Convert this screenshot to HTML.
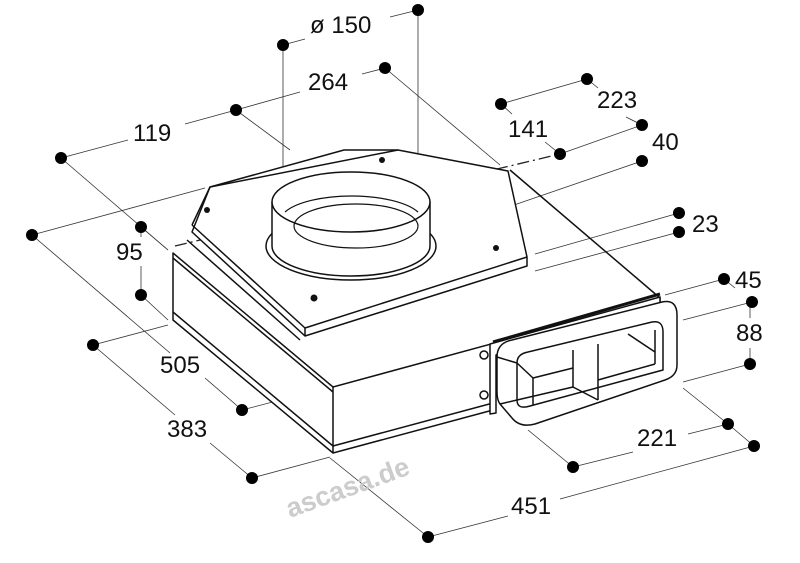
<!DOCTYPE html>
<html><head><meta charset="utf-8"><style>
html,body{margin:0;padding:0;background:#fff}
svg{display:block}
text{font-family:"Liberation Sans",sans-serif;font-size:24px;fill:#111}
</style></head><body>
<svg width="800" height="563" viewBox="0 0 800 563" xmlns="http://www.w3.org/2000/svg">
<g stroke="#333" stroke-width="0.8" fill="none">
<line x1="61" y1="158" x2="128" y2="140"/><line x1="185" y1="124" x2="236" y2="110"/>
<line x1="61" y1="158" x2="168" y2="250"/>
<line x1="236" y1="110" x2="300" y2="92"/><line x1="362" y1="74" x2="385" y2="68"/>
<line x1="236" y1="110" x2="290" y2="150"/>
<line x1="385" y1="68" x2="500" y2="165"/>
<line x1="283" y1="45" x2="305" y2="39"/><line x1="390" y1="17" x2="418" y2="10"/>
<line x1="283" y1="45" x2="283" y2="228"/><line x1="418" y1="10" x2="418" y2="185"/>
<line x1="501" y1="104" x2="587" y2="79"/>
<line x1="587" y1="79" x2="598" y2="88"/><line x1="626" y1="117" x2="642" y2="125"/>
<line x1="501" y1="104" x2="512" y2="114"/><line x1="545" y1="142" x2="560" y2="154"/>
<line x1="560" y1="154" x2="642" y2="125"/>
<line x1="642" y1="161" x2="514" y2="205"/>
<line x1="679" y1="213" x2="535" y2="254"/><line x1="679" y1="232" x2="535" y2="271"/>
<line x1="724" y1="279" x2="665" y2="295"/><line x1="724" y1="279" x2="735" y2="288"/>
<line x1="752" y1="302" x2="683" y2="320"/><line x1="750" y1="364" x2="683" y2="382"/>
<line x1="750" y1="303" x2="750" y2="318"/><line x1="750" y1="348" x2="750" y2="364"/>
<line x1="728" y1="424" x2="683" y2="388"/><line x1="728" y1="424" x2="688" y2="434"/>
<line x1="728" y1="424" x2="754" y2="446"/>
<line x1="573" y1="467" x2="633" y2="452"/><line x1="573" y1="467" x2="528" y2="430"/>
<line x1="754" y1="446" x2="560" y2="499"/><line x1="428" y1="537" x2="508" y2="516"/>
<line x1="428" y1="537" x2="330" y2="458"/>
<line x1="32" y1="235" x2="205" y2="188"/>
<line x1="32" y1="235" x2="170" y2="353"/><line x1="205" y1="378" x2="242" y2="410"/>
<line x1="141" y1="227" x2="168" y2="250"/><line x1="141" y1="295" x2="168" y2="320"/>
<line x1="141" y1="227" x2="141" y2="237"/><line x1="141" y1="266" x2="141" y2="295"/>
<line x1="93" y1="345" x2="168" y2="325"/>
<line x1="93" y1="345" x2="175" y2="415"/><line x1="210" y1="443" x2="252" y2="478"/>
<line x1="242" y1="410" x2="330" y2="387"/><line x1="252" y1="478" x2="330" y2="457"/>
</g>
<line x1="175" y1="246" x2="560" y2="154" stroke="#222" stroke-width="1.3" stroke-dasharray="12,4,2,4" fill="none"/>
<line x1="300" y1="165" x2="405" y2="262" stroke="#222" stroke-width="0.9" stroke-dasharray="12,4,2,4" fill="none"/>
<g stroke="#111" stroke-width="1.5" fill="#fff" stroke-linejoin="round">
<path d="M173,253 L333,387 L660,298 L660,310 L493,356 L493,410 L333,453 L173,320 Z"/>
<line x1="173" y1="258" x2="333" y2="392"/>
<line x1="173" y1="312" x2="333" y2="446"/>
<line x1="333" y1="387" x2="333" y2="453"/>
<line x1="333" y1="446" x2="493" y2="403"/>
<line x1="510" y1="170" x2="660" y2="298"/>
<path d="M210,187 L344,150 L398,150 L508,171 L527,257 L527,266 L305,336 L192,232 Z"/>
<line x1="192" y1="225" x2="305" y2="328"/>
<line x1="305" y1="328" x2="527" y2="257"/>
<line x1="305" y1="328" x2="305" y2="336"/>
<line x1="192" y1="225" x2="210" y2="187"/>
<line x1="210" y1="187" x2="398" y2="150"/>
<line x1="187" y1="240" x2="300" y2="340"/>
<ellipse cx="351" cy="246" rx="85" ry="34"/>
<path d="M272,202 L272,246 A79,30 0 0 0 430,246 L430,202"/>
<ellipse cx="351" cy="202" rx="79" ry="30"/>
<path d="M285,212 A72,26 0 0 1 418,212" fill="none" stroke-width="1.2"/>
<ellipse cx="356" cy="226" rx="62" ry="22" fill="none" stroke-width="1.2"/>
</g>
<g fill="#111">
<circle cx="207" cy="210" r="3"/><circle cx="382" cy="160" r="3"/><circle cx="496" cy="248" r="3"/><circle cx="314" cy="298" r="3.5"/>
</g>
<g stroke="#111" stroke-width="1.5" fill="#fff" stroke-linejoin="round">
<path d="M490,344 L660,297 L660,310 L496,355 L496,413 L490,414 Z"/>
<line x1="493" y1="342" x2="660" y2="294" stroke-width="3"/>
<path d="M497,357 Q497,343 512,340 L662,302 Q677,299 677,315 L677,365 Q677,376 665,380 L535,424 Q520,428 512,418 L500,404 Q497,400 497,392 Z"/>
<path d="M517,363 Q517,354 528,352 L652,322 Q663,320 663,332 L663,370 L530,406 Q517,410 517,400 Z"/>
<line x1="497" y1="357" x2="517" y2="363"/>
<line x1="500" y1="404" x2="517" y2="400"/>
<line x1="517" y1="363" x2="533" y2="378"/>
<line x1="533" y1="378" x2="533" y2="405"/>
<line x1="533" y1="378" x2="573" y2="368"/>
<line x1="517" y1="400" x2="573" y2="387"/>
<line x1="573" y1="350" x2="573" y2="387"/>
<line x1="573" y1="387" x2="598" y2="400"/>
<line x1="598" y1="344" x2="598" y2="400"/>
<line x1="598" y1="380" x2="655" y2="364"/>
<line x1="628" y1="334" x2="655" y2="352"/>
<line x1="655" y1="330" x2="655" y2="364"/>
<circle cx="484" cy="355" r="4"/><circle cx="484" cy="395" r="4"/>
</g>
<g fill="#000">
<circle cx="418" cy="10" r="6"/><circle cx="283" cy="45" r="6"/><circle cx="385" cy="68" r="6"/><circle cx="236" cy="110" r="6"/>
<circle cx="61" cy="158" r="6"/><circle cx="501" cy="104" r="6"/><circle cx="587" cy="79" r="6"/><circle cx="642" cy="125" r="6"/>
<circle cx="560" cy="154" r="6"/><circle cx="642" cy="161" r="6"/><circle cx="679" cy="213" r="6"/><circle cx="679" cy="232" r="6"/>
<circle cx="724" cy="279" r="6"/><circle cx="752" cy="302" r="6"/><circle cx="750" cy="364" r="6"/><circle cx="728" cy="424" r="6"/>
<circle cx="754" cy="446" r="6"/><circle cx="573" cy="467" r="6"/><circle cx="428" cy="537" r="6"/><circle cx="32" cy="235" r="6"/>
<circle cx="141" cy="227" r="6"/><circle cx="141" cy="295" r="6"/><circle cx="93" cy="345" r="6"/><circle cx="242" cy="410" r="6"/><circle cx="252" cy="478" r="6"/>
</g>
<text x="310" y="33">ø 150</text>
<text x="308" y="90">264</text>
<text x="133" y="141">119</text>
<text x="597" y="108">223</text>
<text x="508" y="137">141</text>
<text x="652" y="150">40</text>
<text x="692" y="232">23</text>
<text x="735" y="288">45</text>
<text x="736" y="341">88</text>
<text x="637" y="446">221</text>
<text x="511" y="514">451</text>
<text x="116" y="260">95</text>
<text x="160" y="373">505</text>
<text x="167" y="437">383</text>
<text x="290" y="518" transform="rotate(-20 290 518)" style="font-weight:bold;font-size:27px;fill:#ccc">ascasa.de</text>
</svg>
</body></html>
